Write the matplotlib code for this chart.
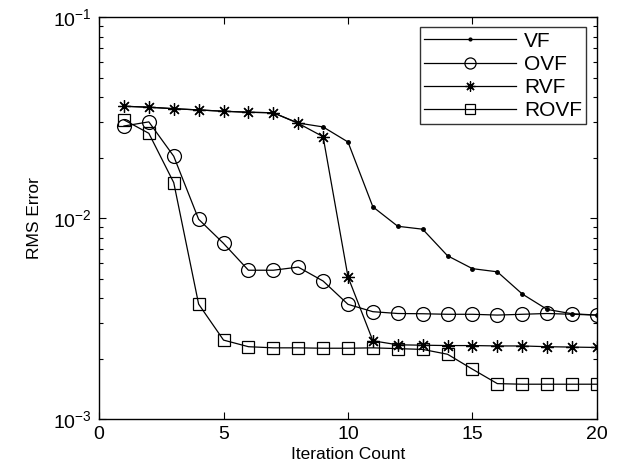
import matplotlib
matplotlib.use("Agg")
import matplotlib.pyplot as plt
from matplotlib.ticker import LogLocator, NullFormatter

plt.rcParams['font.family'] = ['Liberation Sans', 'DejaVu Sans']
plt.rcParams['mathtext.fontset'] = 'custom'
plt.rcParams['mathtext.rm'] = 'Liberation Sans'

iterations = list(range(1, 21))
vf = [0.0360, 0.0356, 0.0350, 0.0345, 0.0340, 0.0336, 0.0334, 0.0297, 0.0284, 0.0239,
      0.01137, 0.0091, 0.0088, 0.00649, 0.0056, 0.0054, 0.00419, 0.00351, 0.00334, 0.00329]
ovf = [0.0287, 0.0301, 0.0203, 0.00986, 0.00748, 0.0055, 0.0055, 0.0057, 0.00486, 0.00372,
       0.00342, 0.00335, 0.00334, 0.00332, 0.00332, 0.00329, 0.00332, 0.00335, 0.00332, 0.00329]
rvf = [0.0360, 0.0356, 0.0350, 0.0345, 0.0340, 0.0336, 0.0334, 0.0296, 0.0254, 0.0051,
       0.00245, 0.00234, 0.00233, 0.00232, 0.00232, 0.00231, 0.00231, 0.00229, 0.00228, 0.00227]
rovf = [0.0308, 0.0264, 0.0150, 0.00373, 0.00247, 0.00229, 0.00226, 0.00226, 0.00225, 0.00225,
        0.00226, 0.00224, 0.00222, 0.00210, 0.00177, 0.00150, 0.00149, 0.00149, 0.00149, 0.00149]

labels = ['VF', 'OVF', 'RVF', 'ROVF']

fig = plt.figure(figsize=(6.27, 4.74), dpi=100)
ax = fig.add_axes([0.158, 0.116, 0.794, 0.848])

lw = 0.9
ax.plot(iterations, vf, color='black', lw=lw, marker='.', markersize=5, label=labels[0])
ax.plot(iterations, ovf, color='black', lw=lw, marker='o', markersize=10, mfc='none',
        mew=0.9, label=labels[1])
ax.plot(iterations, rvf, color='black', lw=lw, marker=(8, 2, 0), markersize=9,
        mew=0.9, label=labels[2])
ax.plot(iterations, rovf, color='black', lw=lw, marker='s', markersize=9, mfc='none',
        mew=0.9, label=labels[3])

ax.set_yscale('log')
ax.set_ylim(1e-3, 1e-1)
ax.set_xlim(0, 20)
ax.set_xticks([0, 5, 10, 15, 20])
ax.yaxis.set_major_locator(LogLocator(base=10, numticks=10))
ax.yaxis.set_minor_locator(LogLocator(base=10, subs=range(2, 10), numticks=20))
ax.yaxis.set_minor_formatter(NullFormatter())

ax.tick_params(which='both', direction='in', top=True, right=True, labelsize=14, width=0.8)
ax.tick_params(which='major', length=5, pad=5)
ax.tick_params(which='minor', length=3)
for s in ax.spines.values():
    s.set_linewidth(1.0)

ax.set_xlabel('Iteration Count', fontsize=12.5, labelpad=3)
ax.set_ylabel('RMS Error', fontsize=12.5, labelpad=8)

leg = ax.legend(loc='upper right', fontsize=15, frameon=True, fancybox=False,
                edgecolor='black', handlelength=4.4, borderpad=0.2, labelspacing=0.2,
                handletextpad=0.4, borderaxespad=0.5, markerscale=0.8)
leg.get_frame().set_linewidth(1.0)

fig.savefig('out.png', dpi=100)
